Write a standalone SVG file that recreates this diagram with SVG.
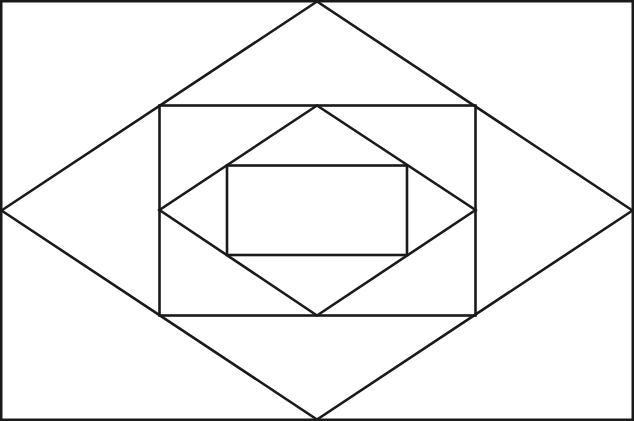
<svg xmlns="http://www.w3.org/2000/svg" width="634" height="421" viewBox="0 0 634 421">
<style>.s{fill:none;stroke:#1a1a1a;stroke-width:2.6;stroke-linejoin:miter}</style>
<rect width="634" height="421" fill="#ffffff"/>
<g id="outer-rect"><rect class="s" x="1.2" y="1.2" width="631.6" height="418.6"/></g>
<g id="outer-diamond"><polygon class="s" points="317,1.5 1.5,210.5 317,419.5 632.5,210.5"/></g>
<g id="middle-rect"><rect class="s" x="159.5" y="105.5" width="316" height="210"/></g>
<g id="inner-diamond"><polygon class="s" points="317,105.5 159.5,210 317,315.5 475.5,210"/></g>
<g id="inner-rect"><rect class="s" x="227" y="165.5" width="180" height="89.5"/></g>
</svg>
